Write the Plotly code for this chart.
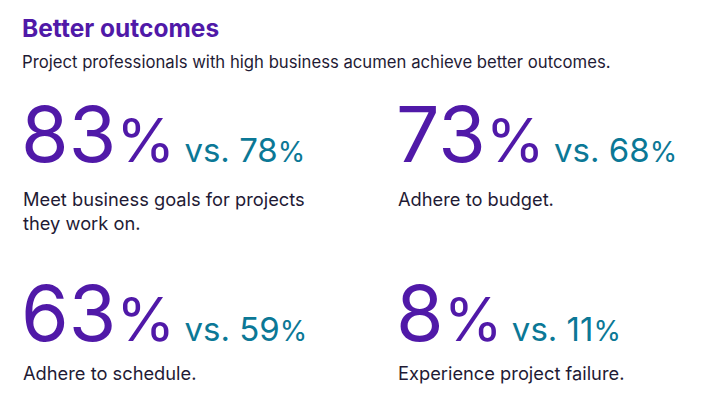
import plotly.graph_objects as go

W, H = 724, 402
PURPLE = "#5019a8"
TEAL = "#0b7896"
DARK = "#1f1b35"

title = "Better outcomes"
subtitle = "Project professionals with high business acumen achieve better outcomes."
high_acumen = [83, 73, 63, 8]
comparison = [78, 68, 59, 11]
labels = ["Meet business goals for projects<br>they work on.", "Adhere to budget.",
          "Adhere to schedule.", "Experience project failure."]

# pixel positions of the four blocks (left edge, number baseline, label top)
col_x = [13, 388]
row_base = [175, 354]
label_top = [178, 352]


def px(x):
    return x / W


def py(y):
    return 1 - y / H


fig = go.Figure()
ann = []
ann.append(dict(text=f"<b>{title}</b>", x=px(12), y=py(37), font=dict(size=24.5, color=PURPLE)))
ann.append(dict(text=subtitle, x=px(12), y=py(66), font=dict(size=16.7, color=DARK)))

for i, (a, b, lab) in enumerate(zip(high_acumen, comparison, labels)):
    x0 = col_x[i % 2]
    r = i // 2
    big = (f"<span style='font-size:77px;color:{PURPLE}'>{a}</span>"
           f"<span style='font-size:60px;color:{PURPLE}'>%</span>"
           f"<span style='font-size:33px;color:{TEAL}'> vs. {b}</span>"
           f"<span style='font-size:28px;color:{TEAL}'>%</span>")
    ann.append(dict(text=big, x=px(x0 - 2), y=py(row_base[r]), font=dict(size=77)))
    ann.append(dict(text=lab, x=px(x0), y=py(label_top[r]), yanchor="top",
                    font=dict(size=18.3, color=DARK)))

for a in ann:
    a.setdefault("yanchor", "bottom")
    a.update(xref="paper", yref="paper", xanchor="left",
             showarrow=False, align="left")
fig.update_layout(width=W, height=H, margin=dict(l=0, r=0, t=0, b=0),
                  paper_bgcolor="white", plot_bgcolor="white",
                  font=dict(family="Inter, sans-serif"),
                  xaxis=dict(visible=False), yaxis=dict(visible=False),
                  annotations=ann)
fig.write_html("out.html")
